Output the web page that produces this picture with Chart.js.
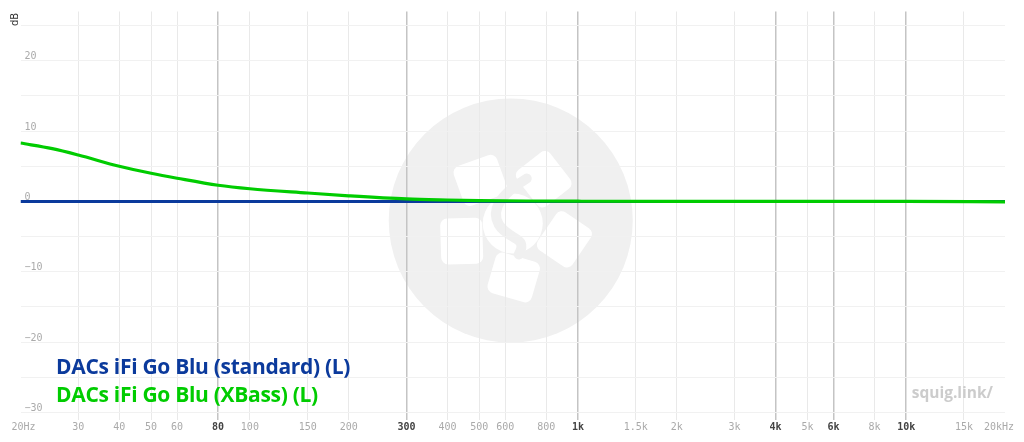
<!DOCTYPE html>
<html>
<head>
<meta charset="utf-8">
<script src="https://cdn.jsdelivr.net/npm/chart.js@4/dist/chart.umd.min.js"></script>
<style>
  html, body { margin: 0; padding: 0; background: #fff; }
  #wrap { position: relative; width: 1024px; height: 442px; overflow: hidden; }
  #graph { display: block; }
  .legend { position: absolute; left: 56px; font-family: "Open Sans", sans-serif; font-weight: 700; font-size: 21px; letter-spacing: -0.3px; line-height: 28px; white-space: nowrap; }
  #brand { position: absolute; right: 31px; top: 380px; font-family: "Open Sans", sans-serif; font-weight: 700; font-size: 15.5px; line-height: 24px; color: #cccccc; }
  #ylabel { position: absolute; left: 8.5px; top: 13px; font-family: "DejaVu Sans", sans-serif; font-size: 10px; color: #333; transform-origin: 0 0; }
</style>
</head>
<body>
<div id="wrap">
  <canvas id="graph" width="1024" height="442"></canvas>
  <div class="legend" id="leg0" style="top:352px"></div>
  <div class="legend" id="leg1" style="top:380px"></div>
  <div id="brand">squig.link/</div>
  <div id="ylabel"></div>
</div>
<script>
// frequency response
const freqs = [20, 25, 30, 40, 50, 60, 80, 100, 150, 200, 300, 400, 500, 700, 1000, 2000, 5000, 10000, 20000];
const standardDb = [0, 0, 0, 0, 0, 0, 0, 0, 0, 0, 0, 0, 0, 0, 0, 0, 0, 0, 0];
const xbassDb = [8.3, 7.5, 6.6, 5.0, 4.0, 3.3, 2.3, 1.8, 1.2, 0.8, 0.35, 0.2, 0.12, 0.06, 0.03, 0.0, 0.0, 0.0, -0.05];

const seriesNames = ['DACs iFi Go Blu (standard) (L)', 'DACs iFi Go Blu (XBass) (L)'];
const seriesColors = ['#0b3a9c', '#00cc00'];

const xTicks = [20, 30, 40, 50, 60, 80, 100, 150, 200, 300, 400, 500, 600, 800, 1000, 1500, 2000, 3000, 4000, 5000, 6000, 8000, 10000, 15000, 20000];
const xTickLabels = [' 20Hz', '30', '40', '50', '60', '80', '100', '150', '200', '300', '400', '500', '600', '800', '1k', '1.5k', '2k', '3k', '4k', '5k', '6k', '8k', '10k', '15k', '20kHz  '];
const xMajor = [80, 300, 1000, 4000, 6000, 10000];
const yTicks = [-30, -25, -20, -15, -10, -5, 0, 5, 10, 15, 20, 25];
const yUnit = 'dB';

document.getElementById('leg0').textContent = seriesNames[0];
document.getElementById('leg0').style.color = seriesColors[0];
document.getElementById('leg1').textContent = seriesNames[1];
document.getElementById('leg1').style.color = seriesColors[1];
const yl = document.getElementById('ylabel');
yl.textContent = yUnit;
yl.style.transform = 'translate(0, 13px) rotate(-90deg)';

const toPoints = arr => freqs.map((f, i) => ({ x: f, y: arr[i] }));

// grey circle logo behind the grid
const watermark = {
    id: 'watermark',
    beforeDraw(chart) {
        const { ctx, chartArea } = chart;
        const cx = (chartArea.left + chartArea.right) / 2 - 2;
        const cy = (chartArea.top + chartArea.bottom) / 2 + 5;
        ctx.save();
        ctx.fillStyle = '#f0f0f0';
        ctx.beginPath();
        ctx.arc(cx, cy, 122, 0, Math.PI * 2);
        ctx.fill();
        ctx.fillStyle = '#ffffff';
        for (let k = 0; k < 5; k++) {
            const a = (-127 + k * 72) * Math.PI / 180;
            ctx.save();
            ctx.translate(cx + 2 + 54 * Math.cos(a), cy + 3 + 54 * Math.sin(a));
            ctx.rotate(a + Math.PI / 2 + 0.3);
            ctx.beginPath();
            ctx.roundRect(-23, -21, 46, 42, 7);
            ctx.fill();
            ctx.restore();
        }
        // centre with the S stroke
        ctx.beginPath();
        ctx.arc(cx + 2, cy + 3, 30, 0, Math.PI * 2);
        ctx.fill();
        ctx.strokeStyle = '#f0f0f0';
        ctx.lineWidth = 10;
        ctx.lineCap = 'round';
        ctx.beginPath();
        ctx.moveTo(cx + 16, cy - 42);
        ctx.bezierCurveTo(cx - 4, cy - 30, cx - 22, cy - 14, cx - 12, cy + 4);
        ctx.bezierCurveTo(cx - 2, cy + 20, cx + 18, cy + 16, cx + 8, cy + 34);
        ctx.stroke();
        ctx.restore();
    }
};

const isMajor = v => xMajor.includes(v);
const isEdge = v => v === xTicks[0] || v === xTicks[xTicks.length - 1];

new Chart(document.getElementById('graph'), {
    type: 'line',
    data: {
        datasets: [
            {
                label: seriesNames[1],
                data: toPoints(xbassDb),
                borderColor: seriesColors[1],
                borderWidth: 3.2,
                pointRadius: 0,
                cubicInterpolationMode: 'monotone'
            },
            {
                label: seriesNames[0],
                data: toPoints(standardDb),
                borderColor: seriesColors[0],
                borderWidth: 3,
                pointRadius: 0,
                cubicInterpolationMode: 'monotone'
            }
        ]
    },
    options: {
        responsive: false,
        animation: false,
        layout: { padding: { left: 20.5, right: 19, top: 11.5, bottom: 6.5 } },
        plugins: { legend: { display: false }, tooltip: { enabled: false } },
        scales: {
            x: {
                type: 'logarithmic',
                min: 20,
                max: 20000,
                afterBuildTicks: scale => { scale.ticks = xTicks.map(v => ({ value: v })); },
                afterFit: scale => { scale.paddingLeft = 0; scale.paddingRight = 0; },
                border: { display: false },
                grid: {
                    drawTicks: false,
                    color: c => isEdge(c.tick.value) ? 'rgba(0,0,0,0)' : (isMajor(c.tick.value) ? '#c4c4c4' : '#e9e9e9'),
                    lineWidth: c => isMajor(c.tick.value) ? 1.5 : 1
                },
                ticks: {
                    autoSkip: false,
                    maxRotation: 0,
                    padding: 2,
                    font: c => ({ family: 'DejaVu Sans Mono', size: 10, weight: isMajor(c.tick.value) ? 'bold' : 'normal' }),
                    color: c => isMajor(c.tick.value) ? '#444' : '#aaa',
                    callback: (v, i) => xTickLabels[i]
                }
            },
            y: {
                min: -31,
                max: 27,
                afterBuildTicks: scale => { scale.ticks = yTicks.map(v => ({ value: v })); },
                afterFit: scale => { scale.width = 0; },
                border: { display: false },
                grid: { drawTicks: false, color: '#f1f1f1' },
                ticks: {
                    mirror: true,
                    padding: 4,
                    labelOffset: -4,
                    font: { family: 'DejaVu Sans Mono', size: 10 },
                    color: '#aaa',
                    callback: v => v % 10 === 0 ? String(v).replace('-', '\u2212') : ''
                }
            }
        }
    },
    plugins: [watermark]
});
</script>
</body>
</html>
